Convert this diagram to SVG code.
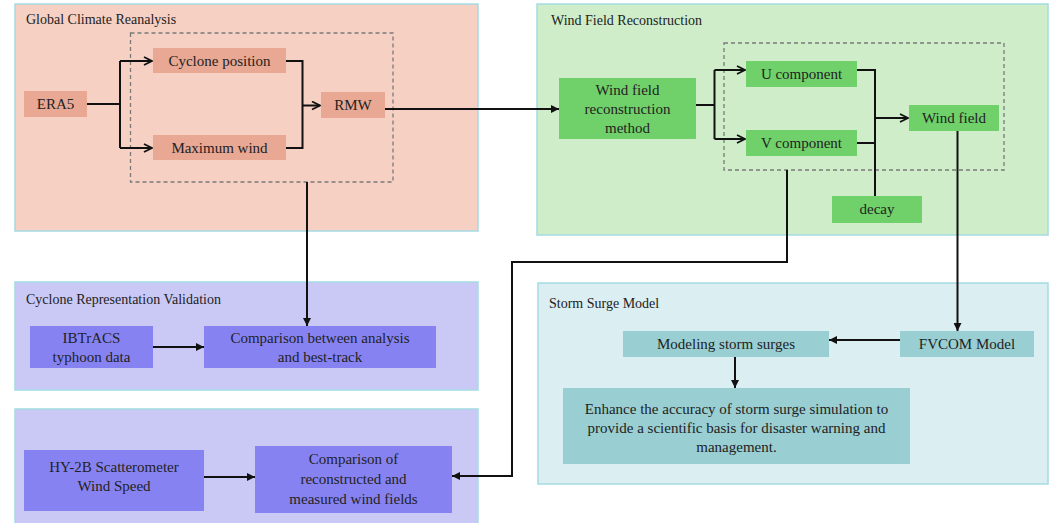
<svg xmlns="http://www.w3.org/2000/svg" width="1053" height="523" viewBox="0 0 1053 523" font-family="'Liberation Serif','Times New Roman',serif">
<defs>
<marker id="open" viewBox="0 0 10 10" refX="9" refY="5" markerWidth="10" markerHeight="10" markerUnits="userSpaceOnUse" orient="auto">
<path d="M1,1 L9,5 L1,9" fill="none" stroke="#111" stroke-width="1.8"/>
</marker>
<marker id="fill" viewBox="0 0 10 10" refX="10" refY="5" markerWidth="10" markerHeight="8" markerUnits="userSpaceOnUse" orient="auto">
<path d="M0,0 L10,5 L0,10 z" fill="#111"/>
</marker>
</defs>
<style>
text{font-family:"Liberation Serif","Times New Roman",serif;fill:#222;}
.t{font-size:14px;font-family:"Liberation Serif","Times New Roman",serif;}
.n{font-size:15px;text-anchor:middle;font-family:"Liberation Serif","Times New Roman",serif;}
.panel{stroke:#a4dbe2;stroke-width:1.5;}
.dash{fill:none;stroke:#7a7a7a;stroke-width:1.3;stroke-dasharray:4 3;}
.c{fill:none;stroke:#111;stroke-width:2;}
.sal{fill:#e8a893;}
.grn{fill:#70d16a;}
.lav{fill:#8782f2;}
.teal{fill:#99cfd2;}
</style>
<rect width="1053" height="523" fill="#fff"/>

<g id="panel-global">
<rect class="panel" x="15" y="4" width="463" height="227" fill="#f5d0c3"/>
<text class="t" x="26" y="24">Global Climate Reanalysis</text>
<rect class="dash" x="130.5" y="33" width="262.5" height="149"/>
</g>
<g id="panel-wind">
<rect class="panel" x="537" y="4" width="511" height="231" fill="#cfedc8"/>
<text class="t" x="551" y="25">Wind Field Reconstruction</text>
<rect class="dash" x="724" y="43" width="280" height="127"/>
</g>
<g id="panel-validation">
<rect class="panel" x="15" y="282" width="463" height="108" fill="#cac9f6"/>
<text class="t" x="26" y="304">Cyclone Representation Validation</text>
</g>
<g id="panel-scatter">
<rect class="panel" x="15" y="409" width="463" height="120" fill="#cac9f6"/>
</g>
<g id="panel-surge">
<rect class="panel" x="538" y="283" width="510" height="201" fill="#dbeef1"/>
<text class="t" x="549" y="308">Storm Surge Model</text>
</g>

<g id="era5"><rect class="sal" x="24" y="91" width="63" height="26"/><text class="n" x="55.5" y="109">ERA5</text></g>
<g id="cyclone-position"><rect class="sal" x="153" y="48" width="133" height="25"/><text class="n" x="219.5" y="65.5">Cyclone position</text></g>
<g id="maximum-wind"><rect class="sal" x="153" y="135" width="133" height="25"/><text class="n" x="219.5" y="152.5">Maximum  wind</text></g>
<g id="rmw"><rect class="sal" x="321" y="92" width="64" height="26"/><text class="n" x="353" y="110">RMW</text></g>

<g id="method"><rect class="grn" x="559" y="78" width="137" height="61"/>
<text class="n" x="627.5" y="95">Wind field</text><text class="n" x="627.5" y="114">reconstruction</text><text class="n" x="627.5" y="133">method</text></g>
<g id="u-component"><rect class="grn" x="746" y="61" width="111" height="26"/><text class="n" x="801.5" y="79">U component</text></g>
<g id="v-component"><rect class="grn" x="746" y="130" width="111" height="26"/><text class="n" x="801.5" y="148">V component</text></g>
<g id="wind-field"><rect class="grn" x="909" y="105" width="90" height="26"/><text class="n" x="954" y="123">Wind field</text></g>
<g id="decay"><rect class="grn" x="832" y="196" width="90" height="27"/><text class="n" x="877" y="214">decay</text></g>

<g id="ibtracs"><rect class="lav" x="30" y="326" width="123" height="42"/>
<text class="n" x="91.5" y="343">IBTrACS</text><text class="n" x="91.5" y="362">typhoon data</text></g>
<g id="comparison-best-track"><rect class="lav" x="204" y="326" width="232" height="42"/>
<text class="n" x="320" y="343">Comparison between analysis</text><text class="n" x="320" y="362">and best-track</text></g>

<g id="hy2b"><rect class="lav" x="24" y="450" width="180" height="61"/>
<text class="n" x="114" y="472">HY-2B Scatterometer</text><text class="n" x="114" y="491">Wind Speed</text></g>
<g id="comparison-wind-fields"><rect class="lav" x="255" y="446" width="197" height="67"/>
<text class="n" x="353.5" y="464">Comparison of</text><text class="n" x="353.5" y="484">reconstructed and</text><text class="n" x="353.5" y="504">measured wind  fields</text></g>

<g id="modeling"><rect class="teal" x="623" y="331" width="206" height="26"/><text class="n" x="726" y="349">Modeling storm surges</text></g>
<g id="fvcom"><rect class="teal" x="900" y="331" width="134" height="26"/><text class="n" x="967" y="349">FVCOM Model</text></g>
<g id="enhance"><rect class="teal" x="563" y="388" width="347" height="76"/>
<text class="n" x="736.5" y="414">Enhance the accuracy of storm surge simulation to</text>
<text class="n" x="736.5" y="433">provide a scientific basis for disaster warning  and</text>
<text class="n" x="736.5" y="452">management.</text></g>

<g id="connectors">
<path class="c" d="M87,104 H120"/>
<path class="c" d="M120,61 V148"/>
<path class="c" d="M120,61 H152" marker-end="url(#open)"/>
<path class="c" d="M120,148 H152" marker-end="url(#open)"/>
<path class="c" d="M286,61 H302.5 V148 H286"/>
<path class="c" d="M302.5,105.5 H320" marker-end="url(#open)"/>
<path class="c" d="M385,109 H559" marker-end="url(#fill)"/>
<path class="c" d="M307,182 V326" marker-end="url(#fill)"/>
<path class="c" d="M696,105 H714.5"/>
<path class="c" d="M714.5,70 V139"/>
<path class="c" d="M714.5,70 H745" marker-end="url(#open)"/>
<path class="c" d="M714.5,139 H745" marker-end="url(#open)"/>
<path class="c" d="M857,70 H875 V196"/>
<path class="c" d="M857,143 H875"/>
<path class="c" d="M875,118 H908" marker-end="url(#open)"/>
<path class="c" d="M957.5,131 V331" marker-end="url(#fill)"/>
<path class="c" d="M787,170 V262 H512 V476 H452" marker-end="url(#fill)"/>
<path class="c" d="M153,347 H204" marker-end="url(#fill)"/>
<path class="c" d="M204,477 H255" marker-end="url(#fill)"/>
<path class="c" d="M900,340 H829" marker-end="url(#fill)"/>
<path class="c" d="M735,357 V388" marker-end="url(#fill)"/>
</g>
</svg>
